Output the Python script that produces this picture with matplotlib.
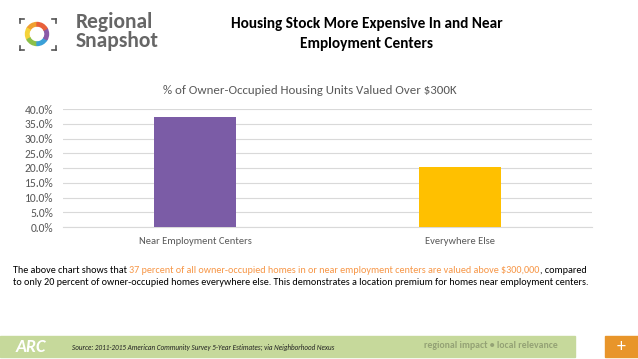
import numpy as np
import matplotlib
matplotlib.use("Agg")
import matplotlib.pyplot as plt
from matplotlib.patches import Wedge, Rectangle

plt.rcParams['font.family'] = ['Carlito', 'Lato', 'DejaVu Sans']

# data
categories = ["Near Employment Centers", "Everywhere Else"]
values = [0.372, 0.204]
bar_colors = ["#7b5ca6", "#ffc000"]
y_ticks = [0.0, 0.05, 0.10, 0.15, 0.20, 0.25, 0.30, 0.35, 0.40]

title_lines = "Housing Stock More Expensive In and Near\nEmployment Centers"
chart_title = "% of Owner-Occupied Housing Units Valued Over $300K"
note_parts = [("The above chart shows that ", "#000000"),
              ("37 percent of all owner-occupied homes in or near employment centers are valued above $300,000", "#f79646"),
              (", compared", "#000000")]
note_line2 = "to only 20 percent of owner-occupied homes everywhere else. This demonstrates a location premium for homes near employment centers."
source = "Source: 2011-2015 American Community Survey 5-Year Estimates; via Neighborhood Nexus"

W, H = 638, 359
fig = plt.figure(figsize=(W / 100, H / 100), dpi=100)

def fx(px):
    return px / W

def fy(py):
    return 1 - py / H

# chart
ax = fig.add_axes([fx(63), fy(227), fx(592) - fx(63), fy(109) - fy(227)])
x = np.arange(len(categories))
ax.bar(x, values, width=0.31, color=bar_colors, zorder=3)
ax.set_xlim(-0.5, 1.5)
ax.set_ylim(0, 0.40)
ax.set_yticks(y_ticks)
ax.set_yticklabels(["%.1f%%" % (v * 100) for v in y_ticks])
ax.set_xticks(x)
ax.set_xticklabels(categories)
ax.grid(axis='y', color="#d9d9d9", linewidth=0.8, zorder=0)
for s in ["top", "right", "left"]:
    ax.spines[s].set_visible(False)
ax.spines["bottom"].set_color("#d9d9d9")
ax.tick_params(axis='y', length=0, labelsize=8.3, colors="#595959", pad=7)
ax.tick_params(axis='x', length=0, labelsize=7.6, colors="#595959", pad=7)

fig.text(fx(310), fy(91), chart_title, ha='center', va='center', fontsize=9.3, color="#595959")

# main title
fig.text(fx(367), fy(34), title_lines, ha='center', va='center', fontsize=11,
         fontweight='bold', color="#000000", linespacing=1.55)

# logo top-left (drawn in inches so the ring stays round)
tr = fig.dpi_scale_trans
cx, cy = 37 / 100, (H - 34) / 100
ring_cols = ["#f0a030", "#f5d33a", "#8cc04a", "#3aa0d8", "#8a5aa8", "#e8603a"]
for i, c in enumerate(ring_cols):
    w = Wedge((cx, cy), 0.115, i * 60 + 90, i * 60 + 150, width=0.035,
              transform=tr, color=c, figure=fig)
    fig.patches.append(w)
br = "#555555"
for (x0, y0, dx, dy) in [(20, 19, 1, 1), (56, 19, -1, 1), (20, 50, 1, -1), (56, 50, -1, -1)]:
    fig.lines.append(plt.Line2D([fx(x0), fx(x0 + 4 * dx)], [fy(y0), fy(y0)],
                                transform=fig.transFigure, color=br, lw=1.2))
    fig.lines.append(plt.Line2D([fx(x0), fx(x0)], [fy(y0), fy(y0 + 4 * dy)],
                                transform=fig.transFigure, color=br, lw=1.2))
fig.text(fx(76), fy(22), "Regional", ha='left', va='center', fontsize=15.5, color="#666666",
         fontweight='semibold')
fig.text(fx(76), fy(41), "Snapshot", ha='left', va='center', fontsize=15.5, color="#666666",
         fontweight='semibold')

# note text with coloured span
renderer = fig.canvas.get_renderer()
xpos = fx(13)
for txt, col in note_parts:
    t = fig.text(xpos, fy(273), txt, ha='left', va='baseline', fontsize=7.3, color=col)
    bb = t.get_window_extent(renderer=renderer)
    xpos = fx(bb.x1)
fig.text(fx(13), fy(285), note_line2, ha='left', va='baseline', fontsize=7.3, color="#000000")

# footer
fig.patches.append(Rectangle((0, fy(357)), fx(575), fy(336) - fy(357), transform=fig.transFigure,
                             color="#c6d99b", figure=fig))
fig.patches.append(Rectangle((fx(605), fy(357)), fx(638) - fx(605), fy(336) - fy(357),
                             transform=fig.transFigure, color="#e8952a", figure=fig))
fig.text(fx(621.5), fy(346.5), "+", ha='center', va='center', fontsize=13, color="white")
fig.text(fx(16), fy(346.5), "ARC", ha='left', va='center', fontsize=13, color="white",
         fontweight='bold', fontstyle='italic')
fig.text(fx(72), fy(347), source, ha='left', va='center', fontsize=5.1, color="#222222",
         fontstyle='italic')
fig.text(fx(558), fy(346), "regional impact \u2022 local relevance", ha='right', va='center',
         fontsize=7.0, color="#94a275", fontweight='bold')

fig.savefig("out.png", dpi=100)
